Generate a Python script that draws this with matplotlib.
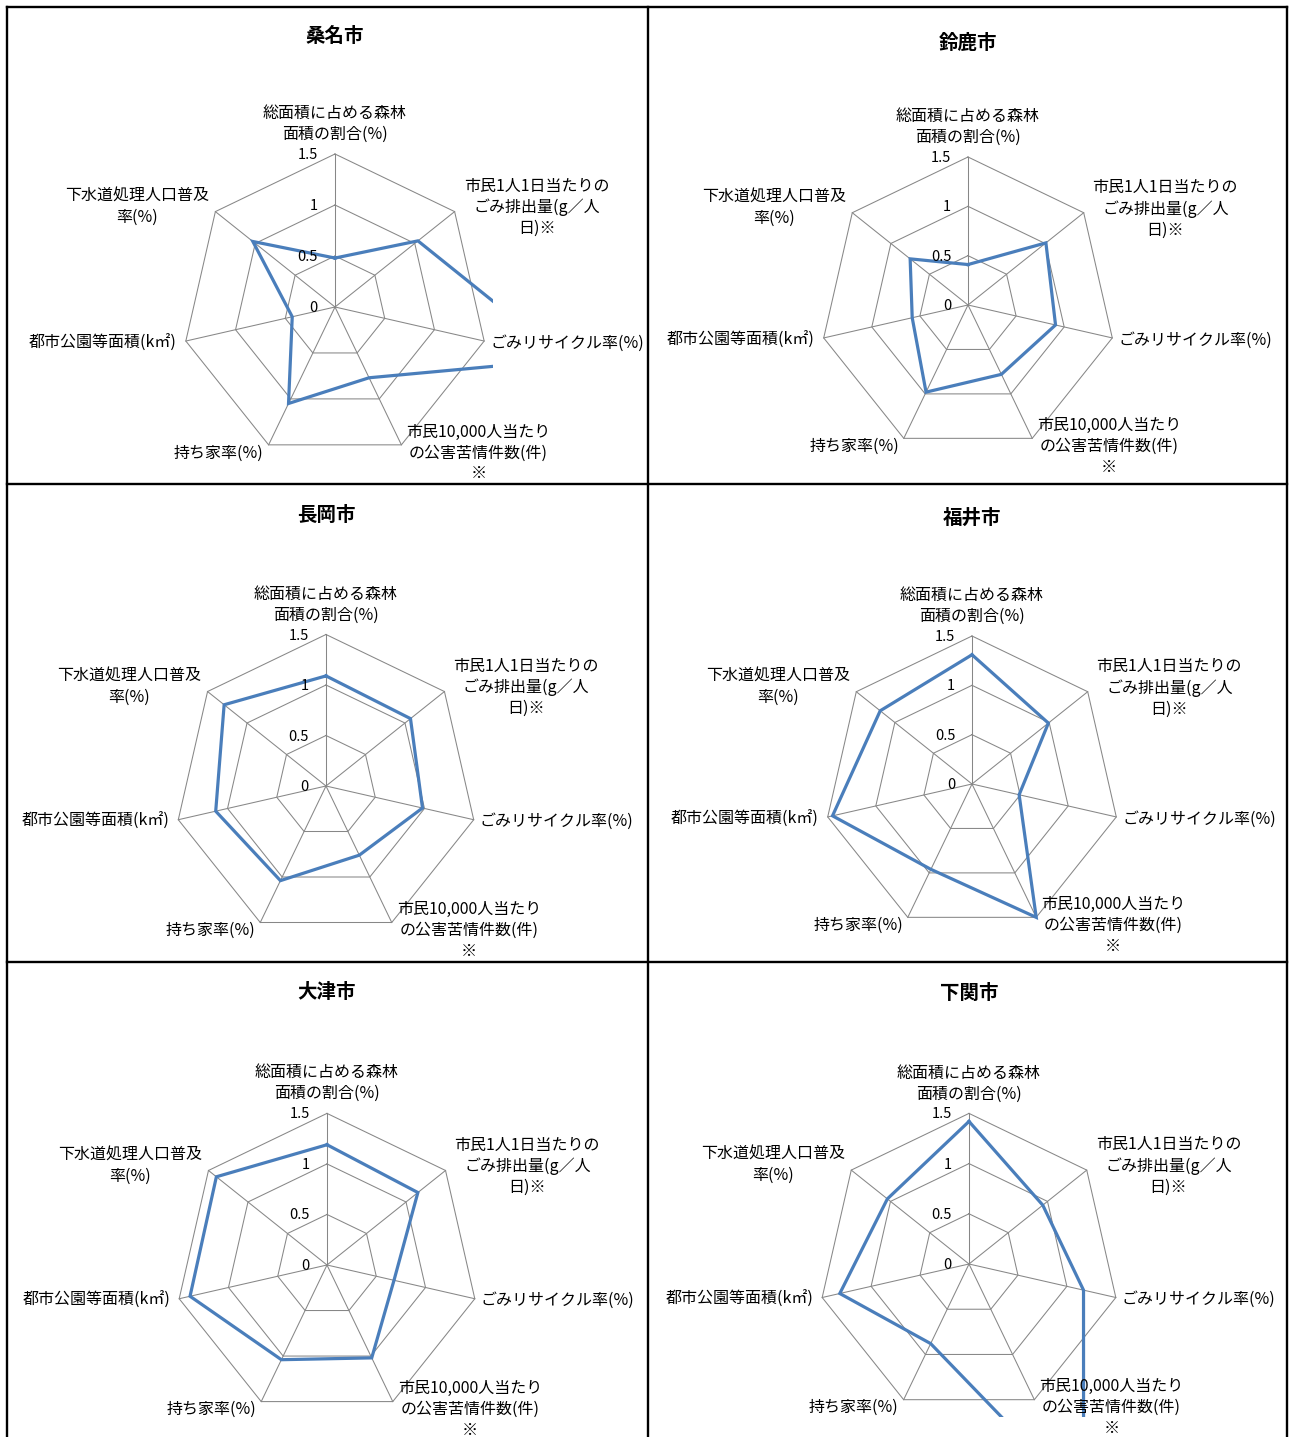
import numpy as np
import matplotlib.pyplot as plt

plt.rcParams['font.family'] = ['Noto Sans CJK JP', 'DejaVu Sans']

# 軸の項目
categories = [
    '総面積に占める森林\n面積の割合(%)',
    '市民1人1日当たりの\nごみ排出量(g／人\n日)※',
    'ごみリサイクル率(%)',
    '市民10,000人当たり\nの公害苦情件数(件)\n※',
    '持ち家率(%)',
    '都市公園等面積(k㎡)',
    '下水道処理人口普及\n率(%)',
]
ticks = [0, 0.5, 1, 1.5]

cities = ['桑名市', '鈴鹿市', '長岡市', '福井市', '大津市', '下関市']
kuwana = [0.48, 1.04, 2.32, 0.77, 1.05, 0.43, 1.03]
suzuka = [0.41, 1.01, 0.91, 0.78, 0.98, 0.58, 0.75]
nagaoka = [1.09, 1.07, 0.98, 0.76, 1.04, 1.12, 1.29]
fukui = [1.31, 0.99, 0.49, 1.50, 0.96, 1.45, 1.19]
otsu = [1.19, 1.15, 0.68, 1.02, 1.04, 1.39, 1.40]
shimonoseki = [1.42, 0.94, 1.17, 2.63, 0.88, 1.32, 1.04]
values = [kuwana, suzuka, nagaoka, fukui, otsu, shimonoseki]

# 各パネルの中心(px), 半径(px), タイトル位置(px)
centers = [(335, 307), (968, 305), (326, 786), (972, 784), (327, 1265), (969, 1264)]
radii = [153, 148, 151.5, 148, 151.6, 150.6]
title_y = [36, 43, 515, 518, 993, 993]

W, H = 1293, 1437
fig = plt.figure(figsize=(W / 100, H / 100), dpi=100)

# 表の罫線
bg = fig.add_axes([0, 0, 1, 1])
bg.set_xlim(0, W)
bg.set_ylim(H, 0)
bg.axis('off')
lw_border = 1.7
bg.plot([7, 7], [7, H], color='black', lw=lw_border)
bg.plot([1287, 1287], [7, H], color='black', lw=lw_border)
bg.plot([648, 648], [7, H], color='black', lw=lw_border)
for yy in [7, 484, 962]:
    bg.plot([7, 1287], [yy, yy], color='black', lw=lw_border)

n = len(categories)
ang = np.arange(n) * 2 * np.pi / n
sx = np.sin(ang)
sy = np.cos(ang)

# ラベルの配置 (外側頂点からのずれ)
label_off = [(0, 0.11), (0.09, 0.04), (0.06, -0.02), (0.05, -0.08),
             (-0.05, -0.08), (-0.09, -0.02), (-0.06, 0.05)]
label_ha = ['center', 'left', 'left', 'left', 'right', 'right', 'right']
label_va = ['bottom', 'center', 'center', 'center', 'center', 'center', 'center']

grid_c = '#878787'
line_c = '#4A7EBB'
xl, yl = 1.55, 1.52

for i in range(6):
    cx, cy = centers[i]
    u = radii[i] / 1.5
    ax = fig.add_axes([(cx - xl * u) / W, (H - cy - yl * u) / H,
                       2 * xl * u / W, 2 * yl * u / H])
    ax.set_xlim(-xl, xl)
    ax.set_ylim(-yl, yl)
    ax.axis('off')

    for r in ticks[1:]:
        ax.plot(np.append(sx, sx[0]) * r, np.append(sy, sy[0]) * r,
                color=grid_c, lw=0.75, clip_on=False)
    for k in range(n):
        ax.plot([0, sx[k] * 1.5], [0, sy[k] * 1.5], color=grid_c, lw=0.75,
                clip_on=False)

    v = np.array(values[i])
    ax.plot(np.append(v * sx, v[0] * sx[0]), np.append(v * sy, v[0] * sy[0]),
            color=line_c, lw=2.3, solid_joinstyle='miter')

    for t in ticks:
        ax.text(-0.17, t - 0.01, f'{t:g}', ha='right', va='center',
                fontsize=10.5, clip_on=False)

    for k in range(n):
        ox, oy = label_off[k]
        ax.text(sx[k] * 1.5 + ox, sy[k] * 1.5 + oy, categories[k],
                ha=label_ha[k], va=label_va[k], multialignment='center',
                fontsize=11.5, linespacing=1.3, clip_on=False)

    ax.text(0, (cy - title_y[i]) / u, cities[i], ha='center', va='center',
            fontsize=14, fontweight='bold', clip_on=False)

fig.savefig('out.png', dpi=100)
